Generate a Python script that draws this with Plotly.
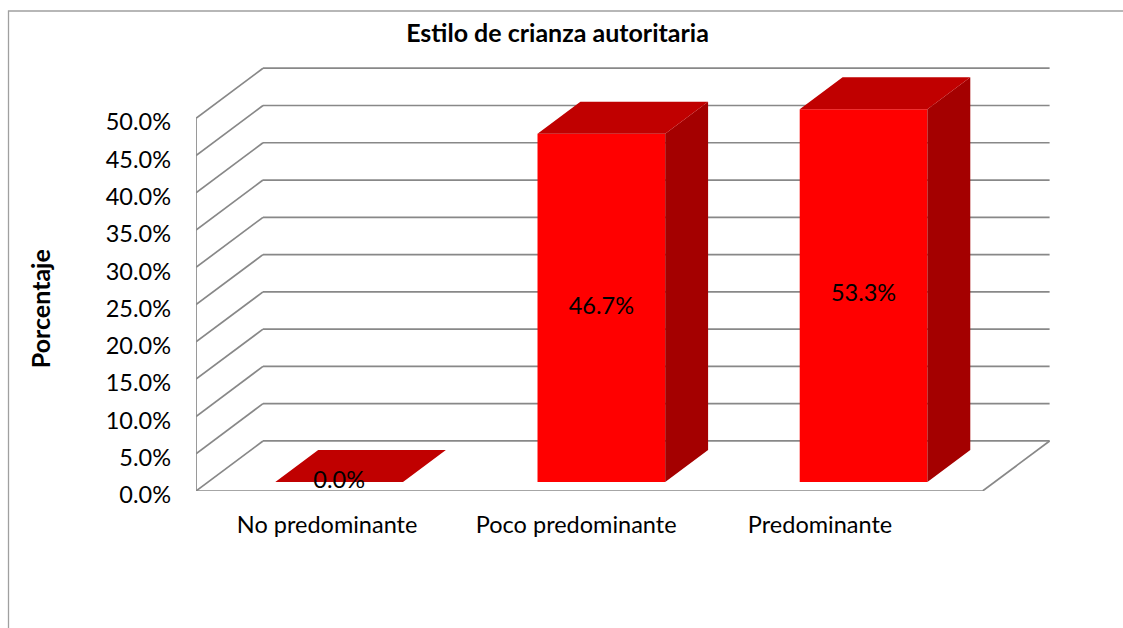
import plotly.graph_objects as go

# ---------------- data ----------------
CATEGORIES = ["No predominante", "Poco predominante", "Predominante"]
VALUES = [0.0, 46.7, 53.3]          # percent
Y_TICKS = [0, 5, 10, 15, 20, 25, 30, 35, 40, 45, 50]
TITLE = "Estilo de crianza autoritaria"
Y_TITLE = "Porcentaje"
AXIS_MAX = 50.0

# ---------------- layout constants (pixels) ----------------
W, H = 1123, 628
PLOT_L, PLOT_R = 196.0, 1110.0
PLOT_T, PLOT_B = 30.0, 490.7
PX_CAT = 262.2       # px per category
PX_PCT = 7.45        # px per percent
PLOT_W = PLOT_R - PLOT_L
PLOT_H = PLOT_B - PLOT_T

DX = 67.0 / PX_CAT   # full depth offset in category units
DY = 50.0 / PX_PCT   # full depth offset in percent units
F0 = 0.18            # bar front depth fraction
FD = 0.64            # bar depth fraction
BW = 127.7 / PX_CAT  # bar width (category units)
LABEL_POS = [0.0, 0.95, 1.88]

FONT = "Lato"
FS = 23.5
FS_BOLD = 25
GRID = "#888888"
C_FRONT, C_TOP, C_SIDE = "#FF0000", "#C00000", "#A40000"


def xp(px):
    return (px - PLOT_L) / PLOT_W


def yp(py):
    return (PLOT_B - py) / PLOT_H


fig = go.Figure()

# gridlines / walls
shapes = []
x0 = -0.5
x1 = len(CATEGORIES) - 0.5
for t in Y_TICKS:
    shapes.append(dict(type="line", xref="x", yref="y", x0=x0, y0=t, x1=x0 + DX, y1=t + DY,
                       line=dict(color=GRID, width=1.7), layer="below"))
    shapes.append(dict(type="line", xref="x", yref="y", x0=x0 + DX, y0=t + DY, x1=x1 + DX, y1=t + DY,
                       line=dict(color=GRID, width=1.7), layer="below"))
# floor
shapes.append(dict(type="line", xref="x", yref="y", x0=x0, y0=0, x1=x1, y1=0,
                   line=dict(color=GRID, width=1.7), layer="below"))
shapes.append(dict(type="line", xref="x", yref="y", x0=x1, y0=0, x1=x1 + DX, y1=DY,
                   line=dict(color=GRID, width=1.7), layer="below"))
# front vertical axis
shapes.append(dict(type="line", xref="x", yref="y", x0=x0, y0=0, x1=x0, y1=max(Y_TICKS),
                   line=dict(color=GRID, width=1.7), layer="below"))
# chart border
shapes.append(dict(type="rect", xref="paper", yref="paper",
                   x0=xp(8.5), y0=yp(640), x1=xp(1140), y1=yp(11),
                   line=dict(color="#A0A0A0", width=1.3), layer="below"))

# bars
clipped = [min(v, AXIS_MAX) for v in VALUES]
base = F0 * DY
xc = [i + F0 * DX for i in range(len(VALUES))]

fig.add_trace(go.Bar(x=xc, y=clipped, base=base, width=BW,
                     marker=dict(color=C_FRONT, line=dict(width=0)),
                     hoverinfo="skip", showlegend=False))

top_x, top_y, side_x, side_y = [], [], [], []
for c, h in zip(xc, clipped):
    xl, xr = c - BW / 2, c + BW / 2
    yt = base + h
    top_x += [xl, xr, xr + FD * DX, xl + FD * DX, xl, None]
    top_y += [yt, yt, yt + FD * DY, yt + FD * DY, yt, None]
    if h > 0:
        side_x += [xr, xr, xr + FD * DX, xr + FD * DX, xr, None]
        side_y += [base, yt, yt + FD * DY, base + FD * DY, base, None]

fig.add_trace(go.Scatter(x=side_x, y=side_y, mode="lines", fill="toself",
                         fillcolor=C_SIDE, line=dict(width=0, color=C_SIDE),
                         hoverinfo="skip", showlegend=False))
fig.add_trace(go.Scatter(x=top_x, y=top_y, mode="lines", fill="toself",
                         fillcolor=C_TOP, line=dict(width=0, color=C_TOP),
                         hoverinfo="skip", showlegend=False))

# data labels
fig.add_trace(go.Scatter(x=xc, y=[base + h / 2 for h in clipped], mode="text",
                         text=[f"{v:.1f}%" for v in VALUES], textposition="middle center",
                         textfont=dict(family=FONT, size=FS, color="black"),
                         hoverinfo="skip", showlegend=False))

fig.update_layout(
    template="none",
    width=W, height=H,
    margin=dict(l=PLOT_L, r=W - PLOT_R, t=PLOT_T, b=H - PLOT_B, pad=0, autoexpand=False),
    paper_bgcolor="white", plot_bgcolor="white",
    showlegend=False,
    shapes=shapes,
    font=dict(family=FONT, color="black"),
    title=dict(text=f"<b>{TITLE}</b>", xref="container", yref="container",
               x=557.5 / W, y=1 - 33.5 / H, xanchor="center", yanchor="middle",
               font=dict(family=FONT, size=FS_BOLD, color="black")),
    xaxis=dict(range=[x0, x0 + PLOT_W / PX_CAT], showgrid=False, zeroline=False, showline=False,
               tickmode="array", tickvals=LABEL_POS, ticktext=CATEGORIES, ticks="",
               ticklabelstandoff=17, tickfont=dict(family=FONT, size=FS, color="black"),
               automargin=False, fixedrange=True),
    yaxis=dict(range=[0, PLOT_H / PX_PCT], showgrid=False, zeroline=False, showline=False,
               tickmode="array", tickvals=Y_TICKS, ticktext=[f"{t:.1f}%" for t in Y_TICKS],
               ticks="", ticklabelstandoff=24, ticklabelshift=4,
               tickfont=dict(family=FONT, size=FS, color="black"),
               automargin=False, fixedrange=True),
    annotations=[dict(text=f"<b>{Y_TITLE}</b>", xref="paper", yref="paper",
                      x=xp(40), y=yp(309), textangle=-90, showarrow=False,
                      xanchor="center", yanchor="middle",
                      font=dict(family=FONT, size=FS_BOLD, color="black"))],
)

fig.write_html("out.html", config={"displayModeBar": False},
               post_script="document.body.style.margin='0px';")
